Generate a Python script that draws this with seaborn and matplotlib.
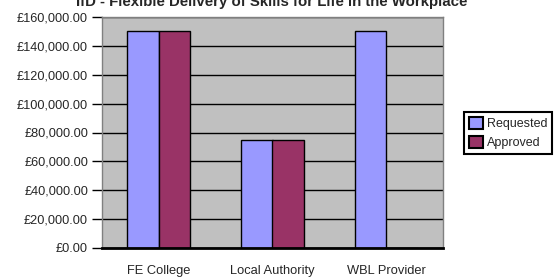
import pandas as pd
import numpy as np
import matplotlib
matplotlib.use('Agg')
import matplotlib.pyplot as plt
import seaborn as sns

# values
categories = ['FE College', 'Local Authority', 'WBL Provider']
requested = [150000, 75000, 150000]
approved = [150000, 75000, 0]
series_names = ['Requested', 'Approved']
y_ticks = [0, 20000, 40000, 60000, 80000, 100000, 120000, 140000, 160000]
title = 'IfD - Flexible Delivery of Skills for Life in the Workplace'

df = pd.DataFrame({
    'Category': categories * 2,
    'Series': [series_names[0]] * 3 + [series_names[1]] * 3,
    'Amount': requested + approved,
})

sns.set_style('white')
plt.rcParams['font.family'] = ['Liberation Sans', 'DejaVu Sans']

fig = plt.figure(figsize=(5.6, 2.79), dpi=100)
ax = fig.add_axes([102 / 560, 31 / 279, 341 / 560, 231 / 279])
ax.set_facecolor('#C0C0C0')

sns.barplot(data=df, x='Category', y='Amount', hue='Series',
            palette=['#9999FF', '#993366'], width=0.555,
            edgecolor='black', linewidth=1.0, saturation=1, ax=ax, zorder=3)

ax.set_xlim(-0.5, 2.5)
ax.set_ylim(0, 160000)
ax.set_yticks(y_ticks)
ax.set_yticklabels(['£{:,.2f}'.format(v) for v in y_ticks], fontsize=9.2)
ax.yaxis.grid(True, color='black', linewidth=1.0, zorder=0)
ax.set_axisbelow(True)

ax.set_xticks(range(len(categories)))
ax.set_xticklabels(categories, fontsize=9.25)
ax.set_xticks([-0.5, 0.5, 1.5], minor=True)
ax.tick_params(axis='x', which='major', length=0, pad=12.5)
ax.tick_params(axis='x', which='minor', length=7.5, width=1, color='black', direction='out')
ax.tick_params(axis='y', length=7, width=1, color='black', direction='out', pad=3, left=True)
ax.set_xlabel('')
ax.set_ylabel('')

for side in ['top', 'right', 'left']:
    ax.spines[side].set_color('#808080')
    ax.spines[side].set_linewidth(1.0)
ax.spines['bottom'].set_color('black')
ax.spines['bottom'].set_linewidth(2.0)
ax.spines['bottom'].set_zorder(5)

leg = ax.legend(loc='center left', bbox_to_anchor=(464 / 560, 1 - 133 / 279),
                bbox_transform=fig.transFigure, fontsize=9, frameon=True,
                fancybox=False, edgecolor='black', framealpha=1,
                handlelength=1.1, handleheight=1.1, handletextpad=0.3,
                borderpad=0.4, labelspacing=0.5, borderaxespad=0)
leg.get_frame().set_linewidth(1.5)
for h in leg.legend_handles:
    h.set_edgecolor('black')
    h.set_linewidth(1.5)

fig.text(272 / 560, 1 - 2 / 279, title, ha='center', va='center',
         fontsize=10.8, fontweight='bold')

fig.savefig('out.png', dpi=100)
